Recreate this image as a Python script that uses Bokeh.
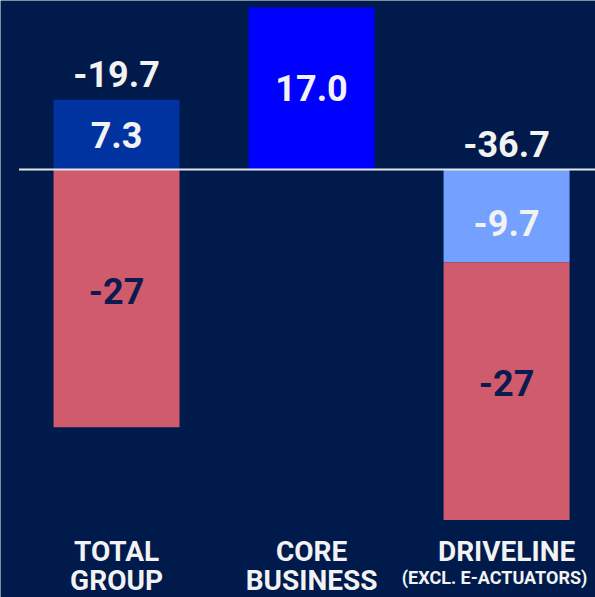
from bokeh.plotting import figure
from bokeh.models import Range1d, ColumnDataSource
from bokeh.core.properties import value
from bokeh.embed import file_html
from bokeh.resources import INLINE

# ---- data ----
categories = ["TOTAL GROUP", "CORE BUSINESS", "DRIVELINE (EXCL. E-ACTUATORS)"]
cat_line1 = ["TOTAL", "CORE", "DRIVELINE"]
cat_line2 = ["GROUP", "BUSINESS", "(EXCL. E-ACTUATORS)"]
positive_part = [7.3, 17.0, 0.0]        # positive contributions
eactuator_part = [0.0, 0.0, -9.7]       # light blue negative part
restructuring = [-27.0, 0.0, -27.0]     # red negative part
totals = [-19.7, None, -36.7]

BG = "#011a4c"
C_POS = ["#0033a0", "#0000ff", "#0033a0"]
C_LIGHT = "#74a0ff"
C_RED = "#cf5b6d"
TXT = "#f2f2f2"
TXT_DARK = "#0b1a4f"

xs = list(range(len(categories)))
W = 0.646

p = figure(width=595, height=597, output_backend="svg", toolbar_location=None,
           x_range=Range1d(-0.595, 2.456), y_range=Range1d(-44.82, 17.70),
           min_border=0, background_fill_color=BG, border_fill_color=BG,
           outline_line_color=None)
p.axis.visible = False
p.grid.visible = False

# positive segments
pos_src = ColumnDataSource(dict(x=[x for x, v in zip(xs, positive_part) if v],
                                top=[v for v in positive_part if v],
                                color=[c for c, v in zip(C_POS, positive_part) if v]))
p.vbar(x="x", top="top", bottom=0, width=W, fill_color="color", line_color=None, source=pos_src)

# light blue e-actuator segment
la_x = [x for x, v in zip(xs, eactuator_part) if v]
la_v = [v for v in eactuator_part if v]
p.vbar(x=la_x, top=0, bottom=la_v, width=W, fill_color=C_LIGHT, line_color=None)

# red segments stacked under the light blue
red_x = [x for x, v in zip(xs, restructuring) if v]
red_top = [e for e, v in zip(eactuator_part, restructuring) if v]
red_bot = [e + v for e, v in zip(eactuator_part, restructuring) if v]
p.vbar(x=red_x, top=red_top, bottom=red_bot, width=W, fill_color=C_RED, line_color=None)

# zero line
p.segment(x0=-0.5, y0=0, x1=3.0, y1=0, line_color="#e6e6e6", line_width=2)

font = value("Roboto")

# labels inside positive segments
pos_lab_x = [x for x, v in zip(xs, positive_part) if v]
pos_lab_y = [min(v / 2, 9.5) for v in positive_part if v]
pos_lab_t = [f"{v:.1f}" for v in positive_part if v]
p.text(x=pos_lab_x, y=pos_lab_y, text=pos_lab_t, text_align="center", text_baseline="middle",
       text_color=TXT, text_font=font, text_font_style="bold", text_font_size="36px")

# light blue labels
p.text(x=la_x, y=[v / 2 - 0.8 for v in la_v], text=[f"{v:.1f}" for v in la_v],
       text_align="center", text_baseline="middle",
       text_color=TXT, text_font=font, text_font_style="bold", text_font_size="36px")

# red labels
p.text(x=red_x, y=[(t + b) / 2 + 0.8 for t, b in zip(red_top, red_bot)],
       text=[f"{v:.0f}" for v in restructuring if v],
       text_align="center", text_baseline="middle",
       text_color=TXT_DARK, text_font=font, text_font_style="bold", text_font_size="36px")

# totals above bars
tot_x = [x for x, t in zip(xs, totals) if t is not None]
tot_y = [max(pv, 0) for pv, t in zip(positive_part, totals) if t is not None]
tot_t = [f"{t:.1f}" for t in totals if t is not None]
p.text(x=tot_x, y=tot_y, text=tot_t, text_align="center", text_baseline="middle", y_offset=-26,
       text_color=TXT, text_font=font, text_font_style="bold", text_font_size="36px")

# category labels
p.text(x=xs, y=[-40.0] * 3, text=cat_line1, text_align="center", text_baseline="middle",
       text_color=TXT, text_font=font, text_font_style="bold", text_font_size="28px")
p.text(x=xs[:2], y=[-43.0] * 2, text=cat_line2[:2], text_align="center", text_baseline="middle",
       text_color=TXT, text_font=font, text_font_style="bold", text_font_size="28px")
p.text(x=xs[2:], y=[-42.7], text=cat_line2[2:], text_align="center", text_baseline="middle",
       x_offset=-12, text_color=TXT, text_font=font, text_font_style="bold",
       text_font_size="18px")

open("out.html", "w").write(file_html(p, INLINE))
